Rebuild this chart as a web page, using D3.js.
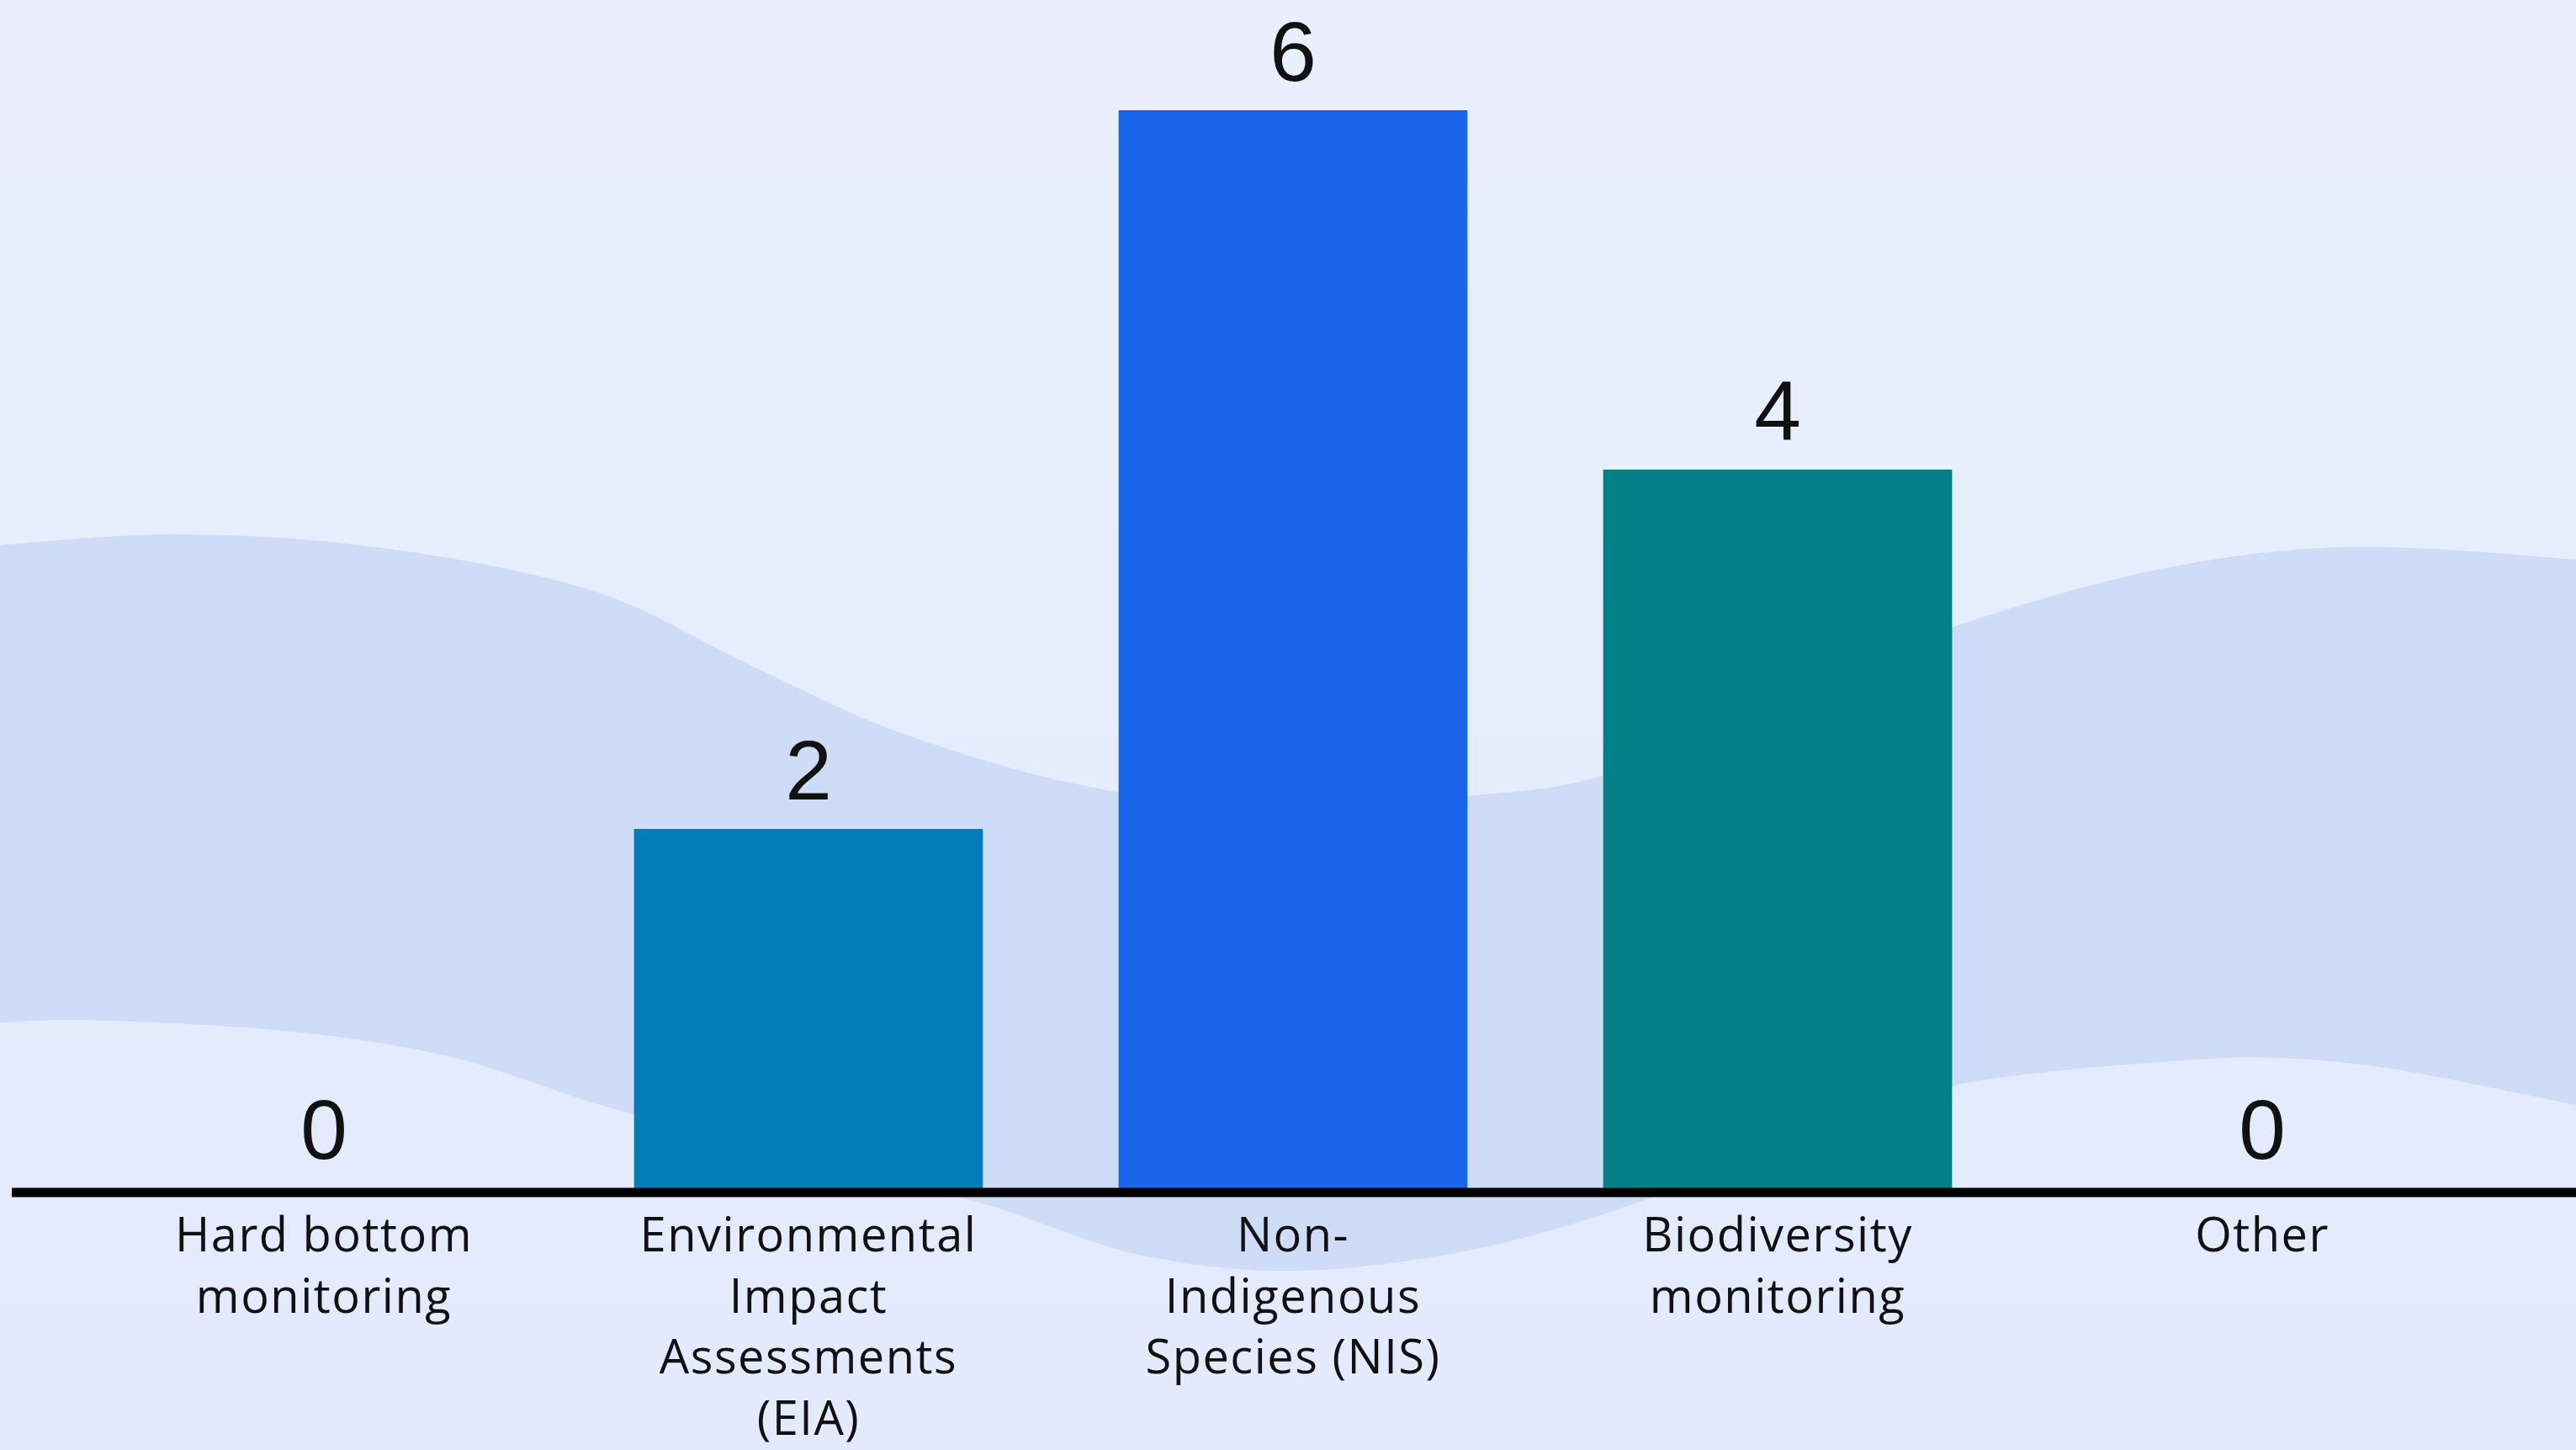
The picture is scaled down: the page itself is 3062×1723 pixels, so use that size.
<!DOCTYPE html>
<html>
<head>
<meta charset="utf-8">
<script src="https://cdn.jsdelivr.net/npm/d3@7"></script>
<style>
  html, body { margin: 0; padding: 0; overflow: hidden; background: #e7eefc; }
  svg { display: block; }
</style>
</head>
<body>
<svg id="chart" width="3062" height="1723"></svg>
<script>
// ---- data ----
const categories = [
  "Hard bottom monitoring",
  "Environmental Impact Assessments (EIA)",
  "Non-Indigenous Species (NIS)",
  "Biodiversity monitoring",
  "Other"
];
const labelLines = [
  ["Hard bottom", "monitoring"],
  ["Environmental", "Impact", "Assessments", "(EIA)"],
  ["Non-", "Indigenous", "Species (NIS)"],
  ["Biodiversity", "monitoring"],
  ["Other"]
];
const values = [0, 2, 6, 4, 0];
const barColors = ["#027db8", "#027db8", "#1b65eb", "#028086", "#028086"];

// ---- decorative background wave (top and bottom edges) ----
const waveTop = [[-20,650],[0,648],[205,635],[446,650],[714,705],[893,791],[1071,871],[1321,940],[1530,955],[1743,946],[1904,922],[2100,830],[2321,745],[2569,676],[2786,650],[3062,665],[3090,668]];
const waveBottom = [[-20,1216],[0,1215],[89,1212],[357,1227],[536,1256],[714,1313],[950,1378],[1168,1430],[1350,1490],[1525,1510],[1750,1485],[1971,1420],[2150,1340],[2321,1290],[2569,1262],[2700,1257],[2829,1268],[3062,1313],[3090,1318]];

const W = 3062, H = 1723;
const svg = d3.select("#chart");

// background gradient
const defs = svg.append("defs");
const g1 = defs.append("linearGradient").attr("id","bg").attr("x1",0).attr("y1",0).attr("x2",0).attr("y2",1);
g1.append("stop").attr("offset","0%").attr("stop-color","#e9f0fc");
g1.append("stop").attr("offset","100%").attr("stop-color","#e2eafc");
svg.append("rect").attr("width", W).attr("height", H).attr("fill", "url(#bg)");

// wave band
const lineGen = d3.line().curve(d3.curveCatmullRom.alpha(0.5));
const topPath = lineGen(waveTop);
const botPath = lineGen(waveBottom.slice().reverse());
svg.append("path")
  .attr("d", topPath + "L" + botPath.slice(1) + "Z")
  .attr("fill", "#cfdcf7");

// scales
const x = d3.scaleBand()
  .domain(categories)
  .range([97, 2977])
  .paddingInner(0.28)
  .paddingOuter(0.14);

const y = d3.scaleLinear()
  .domain([0, 6])
  .range([1412, 131]);

// bars
svg.append("g").selectAll("rect")
  .data(values)
  .join("rect")
  .attr("x", (d, i) => x(categories[i]))
  .attr("width", x.bandwidth())
  .attr("y", d => y(d))
  .attr("height", d => y(0) - y(d))
  .attr("fill", (d, i) => barColors[i]);

// value labels
svg.append("g").selectAll("text")
  .data(values)
  .join("text")
  .attr("x", (d, i) => x(categories[i]) + x.bandwidth() / 2)
  .attr("y", d => y(d) - 35)
  .attr("text-anchor", "middle")
  .attr("font-family", "'Liberation Sans', Arial, sans-serif")
  .attr("font-size", 100)
  .attr("fill", "#111")
  .text(d => d);

// baseline axis
const axis = d3.axisBottom(x).tickSize(0).tickFormat("");
const axG = svg.append("g").attr("transform", `translate(0, ${y(0) + 5})`).call(axis);
axG.select(".domain").remove();
axG.append("line")
  .attr("x1", 14).attr("x2", W)
  .attr("y1", 0).attr("y2", 0)
  .attr("stroke", "#000")
  .attr("stroke-width", 11);

// category labels
const labG = svg.append("g");
categories.forEach((c, i) => {
  const t = labG.append("text")
    .attr("x", x(c) + x.bandwidth() / 2)
    .attr("y", 1487)
    .attr("text-anchor", "middle")
    .attr("font-family", "'Open Sans', 'Noto Sans', sans-serif")
    .attr("font-size", 56)
    .attr("letter-spacing", 1.5)
    .attr("fill", "#111");
  labelLines[i].forEach((ln, j) => {
    t.append("tspan")
      .attr("x", x(c) + x.bandwidth() / 2)
      .attr("dy", j === 0 ? 0 : 72.5)
      .text(ln);
  });
});
</script>
</body>
</html>
